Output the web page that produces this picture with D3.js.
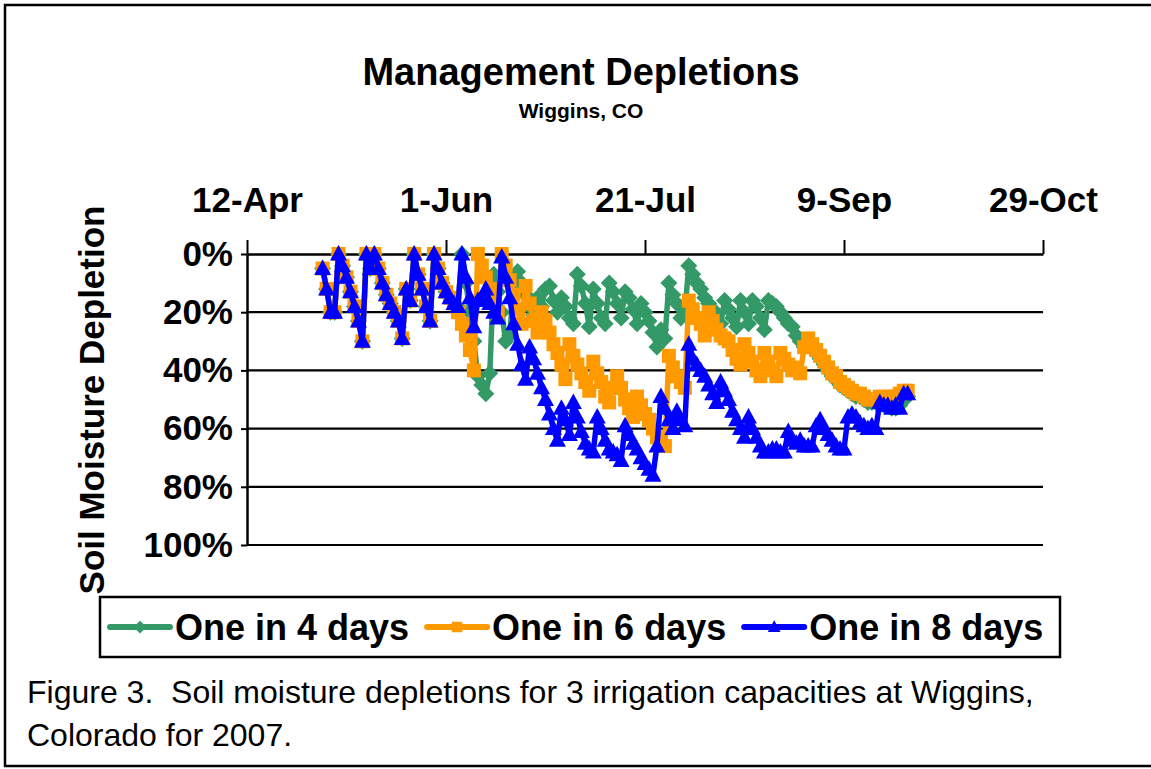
<!DOCTYPE html>
<html>
<head>
<meta charset="utf-8">
<script src="https://cdn.jsdelivr.net/npm/d3@7"></script>
<style>
html, body { margin: 0; padding: 0; background: #fff; }
svg { display: block; font-family: "Liberation Sans", Arial, sans-serif; }
</style>
</head>
<body>
<svg id="chart" width="1151" height="769"></svg>
<script>
// first day with a reading, one value per day after that
var firstDay = '2007-05-01';
var tickDates = ['2007-04-12', '2007-06-01', '2007-07-21', '2007-09-09', '2007-10-29'];
var pctTicks = [0, 20, 40, 60, 80, 100];
var seriesNames = ['One in 4 days', 'One in 6 days', 'One in 8 days'];
var seriesColors = ['#339966', '#FF9900', '#0000FF'];

var oneIn4 = [5, 12, 20, 20, 0, 4, 8, 13, 18, 23, 30, 0, 5, 0, 5, 10, 14, 17, 20, 23,
    29, 12, 16, 0, 7, 12, 18, 23, 0, 5, 10, 13, 15, 17,
    18, 0, 10, 20, 30, 42, 45, 48, 41, 7,
    13, 20, 30, 28, 10, 6, 10, 14, 18, 21,
    15, 18, 12, 11, 16, 20, 15, 18, 22, 24,
    7, 11, 17, 25, 12, 17, 22, 24, 10, 13,
    17, 22, 13, 15, 19, 24, 17, 20, 23, 27,
    32, 26, 29, 10, 14, 17, 22, 20, 4, 7,
    10, 12, 15, 17, 19, 21, 24, 16, 19, 22,
    25, 16, 20, 24, 16, 18, 22, 26, 16, 17,
    18, 20, 22, 24, 25, 28, 30, 32, 31, 32,
    34, 36, 38, 40, 42, 43, 45, 46, 47, 48,
    49, 49, 50, 51, 51, 51, 51, 52, 52, 53,
    53, 52, 50, 49];

var oneIn6 = [5, 12, 20, 20, 0, 4, 8, 13, 18, 23, 30, 0, 5, 0, 5, 10, 14, 17, 20, 23,
    29, 12, 16, 0, 7, 12, 18, 23, 0, 5, 10, 13, 15, 17,
    20, 24, 28, 33, 40, 0, 4, 8, 12, 16,
    20, 0, 4, 9, 14, 19, 24, 11, 17, 23,
    27, 20, 23, 27, 31, 34, 38, 43, 31, 35,
    38, 41, 44, 47, 37, 41, 44, 49, 51, 46,
    42, 46, 50, 53, 56, 49, 52, 55, 57, 60,
    63, 65, 66, 35, 39, 42, 44, 46, 16, 19,
    22, 24, 28, 20, 23, 26, 28, 29, 30, 33,
    36, 38, 31, 34, 37, 40, 42, 34, 37, 40,
    42, 34, 36, 38, 40, 39, 41, 32, 29, 31,
    33, 35, 37, 39, 41, 42, 44, 45, 46, 47,
    48, 48, 49, 50, 50, 50, 49, 50, 50, 49,
    49, 48, 47, 47];

var oneIn8 = [5, 12, 20, 20, 0, 4, 8, 13, 18, 23, 30, 0, 5, 0, 5, 10, 14, 17, 20, 23,
    29, 12, 16, 0, 7, 12, 18, 23, 0, 5, 10, 13, 15, 17,
    18, 0, 8, 15, 25, 16, 15, 12, 17, 20,
    22, 1, 8, 15, 24, 31, 38, 43, 32, 36,
    41, 46, 50, 55, 60, 64, 53, 57, 62, 51,
    56, 61, 65, 67, 68, 56, 60, 64, 67, 68,
    69, 71, 59, 62, 65, 67, 70, 72, 74, 76,
    66, 49, 53, 57, 60, 54, 57, 59, 31, 36,
    38, 40, 42, 45, 48, 51, 44, 47, 50, 54,
    57, 60, 63, 56, 60, 63, 66, 68, 68, 67,
    67, 68, 68, 61, 64, 65, 64, 66, 66, 66,
    59, 57, 60, 62, 64, 66, 67, 67, 56, 55,
    56, 58, 59, 60, 59, 60, 51, 52, 52, 53,
    52, 53, 48, 48];

var svg = d3.select('#chart');
var parse = d3.utcParse('%Y-%m-%d');
var start = parse(firstDay);

// frame round the figure
svg.append('rect')
    .attr('x', 5).attr('y', 5)
    .attr('width', 1160).attr('height', 761)
    .attr('fill', 'none')
    .attr('stroke', '#000')
    .attr('stroke-width', 2.5);

svg.append('text')
    .attr('x', 581).attr('y', 85)
    .attr('text-anchor', 'middle')
    .style('font-size', '38px').style('font-weight', 'bold')
    .text('Management Depletions');

svg.append('text')
    .attr('x', 581).attr('y', 118)
    .attr('text-anchor', 'middle')
    .style('font-size', '21px').style('font-weight', 'bold')
    .text('Wiggins, CO');

var x = d3.scaleUtc()
    .domain([parse(tickDates[0]), parse(tickDates[tickDates.length - 1])])
    .range([247, 1043]);

var y = d3.scaleLinear()
    .domain([0, 100])
    .range([254, 545]);

// horizontal grid
svg.append('g')
    .selectAll('line')
    .data(pctTicks.slice(1))
    .enter().append('line')
    .attr('x1', 247).attr('x2', 1043)
    .attr('y1', function (d) { return y(d); })
    .attr('y2', function (d) { return y(d); })
    .attr('stroke', '#000')
    .attr('stroke-width', 2.2);

var xAxis = svg.append('g')
    .attr('transform', 'translate(0,' + y(0) + ')')
    .call(d3.axisTop(x)
        .tickValues(tickDates.map(parse))
        .tickFormat(d3.utcFormat('%-d-%b'))
        .tickSize(14)
        .tickSizeOuter(0)
        .tickPadding(28));

var yAxis = svg.append('g')
    .attr('transform', 'translate(247,0)')
    .call(d3.axisLeft(y)
        .tickValues(pctTicks)
        .tickFormat(function (d) { return d + '%'; })
        .tickSize(6)
        .tickSizeOuter(0)
        .tickPadding(8));

[xAxis, yAxis].forEach(function (g) {
    g.select('.domain').attr('stroke', '#000').attr('stroke-width', 2.5);
    g.selectAll('.tick line').attr('stroke', '#000').attr('stroke-width', 2);
    g.selectAll('.tick text')
        .attr('fill', '#000')
        .style('font-family', '"Liberation Sans", Arial, sans-serif')
        .style('font-size', '35px')
        .style('font-weight', 'bold');
});

svg.append('text')
    .attr('transform', 'translate(104,400) rotate(-90)')
    .attr('text-anchor', 'middle')
    .style('font-size', '35px').style('font-weight', 'bold')
    .text('Soil Moisture Depletion');

// marker shapes
var shapes = [
    'M0,-8.5L8.5,0L0,8.5L-8.5,0Z',
    'M-7,-7h14v14h-14Z',
    'M0,-9L8.5,6.5L-8.5,6.5Z'
];

var line = d3.line()
    .x(function (d) { return x(d.date); })
    .y(function (d) { return y(d.value); });

[oneIn4, oneIn6, oneIn8].forEach(function (values, i) {
    var pts = values.map(function (v, k) {
        return {date: d3.utcDay.offset(start, k), value: v};
    });
    var g = svg.append('g');

    g.append('path')
        .datum(pts)
        .attr('d', line)
        .attr('fill', 'none')
        .attr('stroke', seriesColors[i])
        .attr('stroke-width', 5.5)
        .attr('stroke-linejoin', 'round');

    g.selectAll('path.mark')
        .data(pts)
        .enter().append('path')
        .attr('class', 'mark')
        .attr('d', shapes[i])
        .attr('transform', function (d) { return 'translate(' + x(d.date) + ',' + y(d.value) + ')'; })
        .attr('fill', seriesColors[i]);
});

// legend
var legend = svg.append('g');

legend.append('rect')
    .attr('x', 100).attr('y', 597)
    .attr('width', 960).attr('height', 60)
    .attr('fill', '#fff')
    .attr('stroke', '#000')
    .attr('stroke-width', 2.5);

var lx = 110;
seriesNames.forEach(function (name, i) {
    legend.append('line')
        .attr('x1', lx).attr('x2', lx + 60)
        .attr('y1', 627).attr('y2', 627)
        .attr('stroke', seriesColors[i])
        .attr('stroke-width', 6)
        .attr('stroke-linecap', 'round');
    legend.append('path')
        .attr('d', shapes[i])
        .attr('transform', 'translate(' + (lx + 30) + ',627) scale(0.75)')
        .attr('fill', seriesColors[i]);
    var t = legend.append('text')
        .attr('x', lx + 65).attr('y', 640)
        .style('font-size', '36px').style('font-weight', 'bold')
        .text(name);
    lx += 65 + t.node().getComputedTextLength() + 18;
});

// caption under the chart
var caption = ['Figure 3.  Soil moisture depletions for 3 irrigation capacities at Wiggins,',
    'Colorado for 2007.'];

svg.append('g')
    .selectAll('text')
    .data(caption)
    .enter().append('text')
    .attr('x', 27)
    .attr('y', function (d, i) { return 703 + i * 43; })
    .style('font-size', '32px')
    .style('white-space', 'pre')
    .text(function (d) { return d; });
</script>
</body>
</html>
